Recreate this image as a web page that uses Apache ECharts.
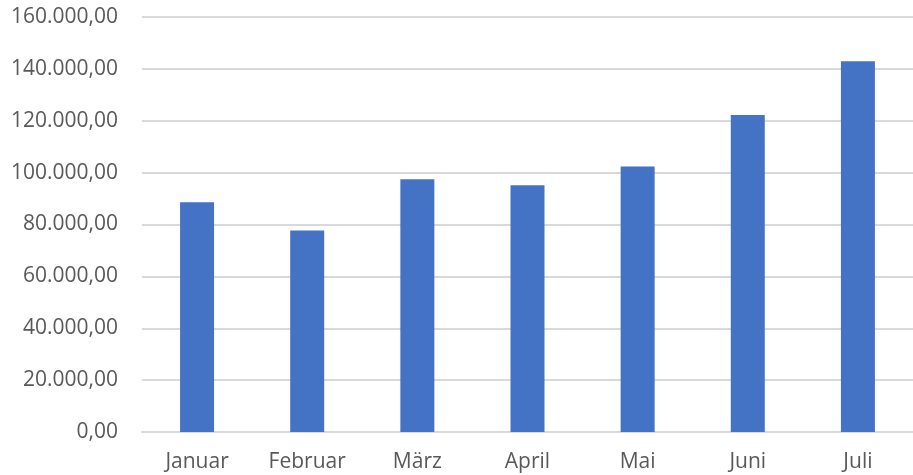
<!DOCTYPE html>
<html>
<head>
<meta charset="utf-8">
<script src="https://cdn.jsdelivr.net/npm/echarts@6/dist/echarts.min.js"></script>
<style>
  html, body { margin: 0; padding: 0; background: #fff; }
  #chart { width: 913px; height: 475px; }
</style>
</head>
<body>
<div id="chart"></div>
<script>
// Data
const months = ["Januar", "Februar", "März", "April", "Mai", "Juni", "Juli"];
const values = [88600, 77700, 97400, 95100, 102400, 122200, 142900];
const yTickLabels = [
  "0,00", "20.000,00", "40.000,00", "60.000,00", "80.000,00",
  "100.000,00", "120.000,00", "140.000,00", "160.000,00",
];

const chart = echarts.init(document.getElementById("chart"));
chart.setOption({
  animation: false,
  textStyle: { fontFamily: "Open Sans" },
  grid: { left: 142, right: -11, top: 17, bottom: 43 },
  xAxis: {
    type: "category",
    data: months,
    axisLine: { lineStyle: { color: "#d9d9d9", width: 2 } },
    axisTick: { show: false },
    axisLabel: { color: "#595959", fontSize: 21, margin: 20 },
  },
  yAxis: {
    type: "value",
    min: 0,
    max: 160000,
    interval: 20000,
    axisLine: { show: false },
    axisTick: { show: false },
    axisLabel: {
      color: "#595959",
      fontSize: 21,
      margin: 24,
      formatter: (v) => yTickLabels[Math.round(v / 20000)],
    },
    splitLine: { lineStyle: { color: "#d9d9d9", width: 2 } },
  },
  series: [
    {
      type: "bar",
      data: values,
      barWidth: 34,
      itemStyle: { color: "#4472C4" },
    },
  ],
});
</script>
</body>
</html>
